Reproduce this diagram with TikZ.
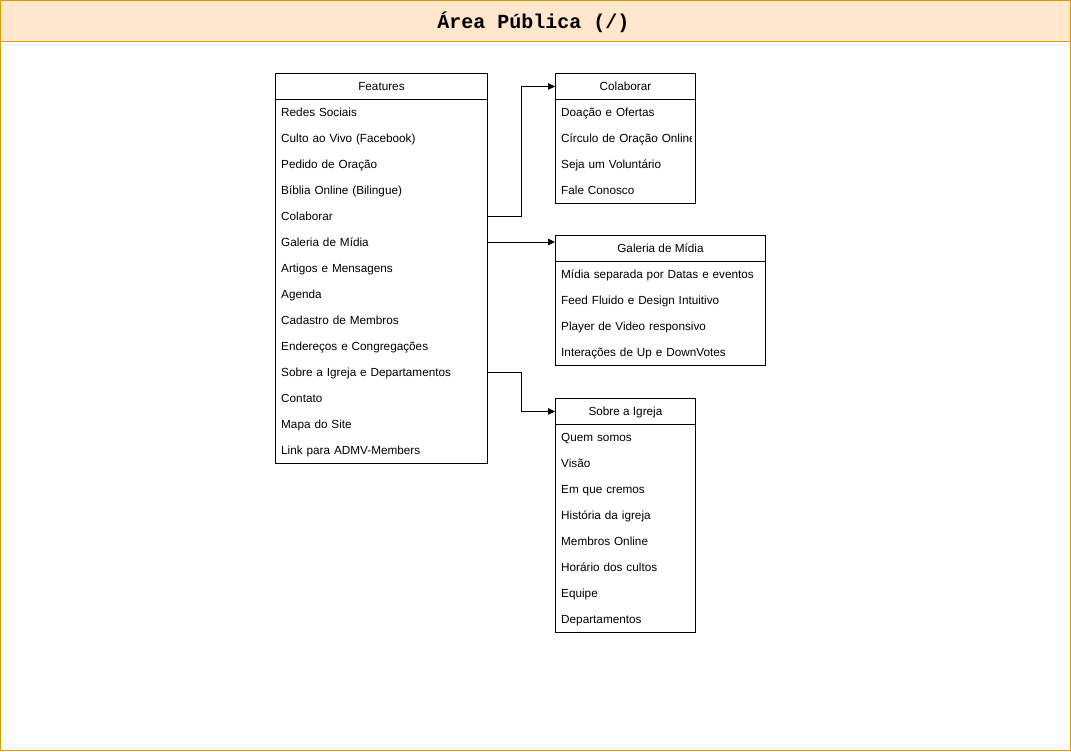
\documentclass[tikz,border=0pt]{standalone}
\usepackage{fontspec}
\setmainfont{Liberation Sans}
\newfontfamily\titlefont{Liberation Mono}
\usetikzlibrary{arrows.meta}
\definecolor{frameorange}{HTML}{D79B00}
\definecolor{titlefill}{HTML}{FFE6CC}
\tikzset{
  boxline/.style={draw=black, line width=0.9pt},
  hdr/.style={boxline, fill=white, anchor=north west, minimum height=26pt, inner sep=0pt, text height=9.5pt, text depth=1.5pt, font=\fontsize{11.75}{14}\selectfont},
  row/.style={anchor=west, minimum height=26pt, inner xsep=6pt, inner ysep=0pt, text height=9.5pt, text depth=1.5pt, align=left, font=\fontsize{11.75}{14}\selectfont},
  conn/.style={draw=black, line width=0.9pt, -{Triangle[length=7pt,width=6.5pt]}}
}
\begin{document}
\begin{tikzpicture}[x=1pt,y=-1pt]
\useasboundingbox (0,0) rectangle (1071,752);
% outer frame
\draw[frameorange, line width=0.9pt, fill=white] (0.5,0.5) rectangle (1070.5,750.5);
\draw[frameorange, line width=0.9pt, fill=titlefill] (0.5,0.5) rectangle (1070.5,41.5);
\node (title) at (533.5,22) {\titlefont\bfseries\fontsize{20}{24}\selectfont Área Pública (/)};

% Features
\draw[boxline, fill=white] (275,99) rectangle (487,463);
\node[hdr, minimum width=212pt] (features) at (275,73) {Features};
\foreach \t [count=\i] in {Redes Sociais,Culto ao Vivo (Facebook),Pedido de Oração,Bíblia Online (Bilingue),Colaborar,Galeria de Mídia,Artigos e Mensagens,Agenda,Cadastro de Membros,Endereços e Congregações,Sobre a Igreja e Departamentos,Contato,Mapa do Site,Link para ADMV-Members}
  \node[row, text width=200pt] (f\i) at (275,{99+26*\i-13}) {\t};

% Colaborar
\draw[boxline, fill=white] (555,99) rectangle (695,203);
\node[hdr, minimum width=140pt] (colab) at (555,73) {Colaborar};
\begin{scope}
\clip (555,99) rectangle (691.5,203);
\foreach \t [count=\i] in {Doação e Ofertas,\mbox{Círculo de Oração Online},Seja um Voluntário,Fale Conosco}
  \node[row, text width=128pt] (c\i) at (555,{99+26*\i-13}) {\t};
\end{scope}

% Galeria de Midia
\draw[boxline, fill=white] (555,261) rectangle (765,365);
\node[hdr, minimum width=210pt] (galeria) at (555,235) {Galeria de Mídia};
\foreach \t [count=\i] in {Mídia separada por Datas e eventos,Feed Fluido e Design Intuitivo,Player de Video responsivo,Interações de Up e DownVotes}
  \node[row, text width=198pt] (g\i) at (555,{261+26*\i-13}) {\t};

% Sobre a Igreja
\draw[boxline, fill=white] (555,424) rectangle (695,632);
\node[hdr, minimum width=140pt] (sobre) at (555,398) {Sobre a Igreja};
\foreach \t [count=\i] in {Quem somos,Visão,Em que cremos,História da igreja,Membros Online,Horário dos cultos,Equipe,Departamentos}
  \node[row, text width=128pt] (s\i) at (555,{424+26*\i-13}) {\t};

% connectors
\draw[conn] (f5.east) -- (521,216) |- (colab.west);
\draw[conn] (f6.east) -- (f6.east -| galeria.west);
\draw[conn] (f11.east) -- (521,372) |- (sobre.west);
\end{tikzpicture}
\end{document}
